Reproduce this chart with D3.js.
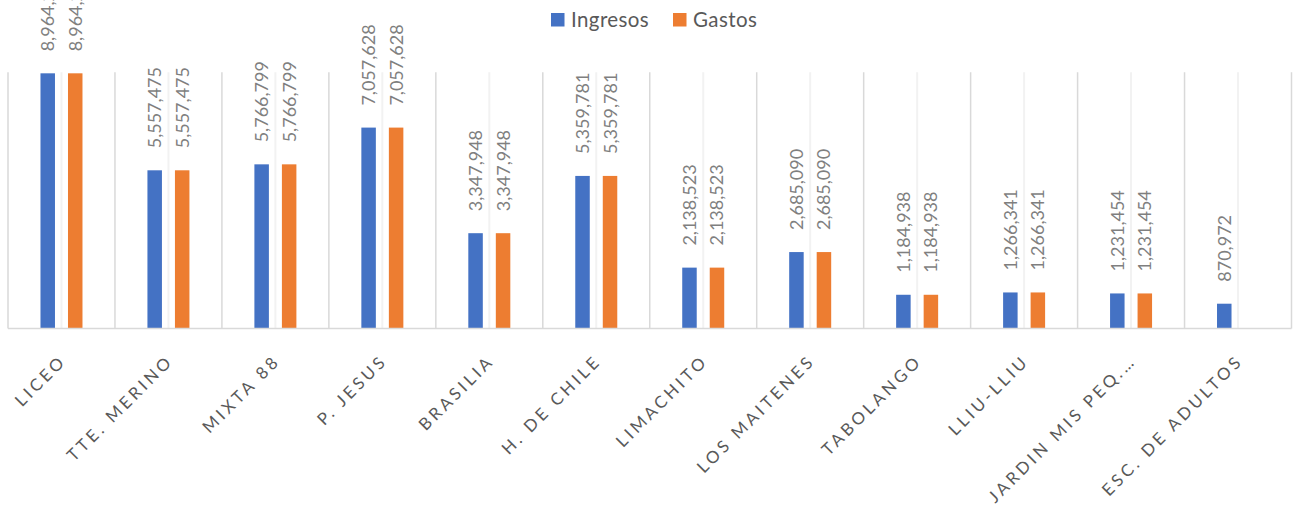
<!DOCTYPE html>
<html><head><meta charset="utf-8">
<script src="https://cdn.jsdelivr.net/npm/d3@7"></script>
<style>body{margin:0;background:#fff;}svg{display:block;}</style>
</head><body>
<svg id="c" width="1296" height="508"></svg>
<script>
const categories = ["LICEO","TTE. MERINO","MIXTA 88","P. JESUS","BRASILIA","H. DE CHILE","LIMACHITO","LOS MAITENES","TABOLANGO","LLIU-LLIU","JARDIN MIS PEQ.…","ESC. DE ADULTOS"];
const ingresos = [8964254,5557475,5766799,7057628,3347948,5359781,2138523,2685090,1184938,1266341,1231454,870972];
const gastos   = [8964254,5557475,5766799,7057628,3347948,5359781,2138523,2685090,1184938,1266341,1231454,null];
const seriesNames = ["Ingresos","Gastos"];
const colors = ["#4472C4","#ED7D31"];
const yMax = 9000000;

(function(){
const svg = d3.select("#c");
const pLeft = 8, pRight = 1291.5, pTop = 72.3, pBottom = 328.5;
const x = d3.scaleBand().domain(categories).range([pLeft, pRight]).padding(0);
const x1 = d3.scaleBand().domain(seriesNames).range([-21, 21]).paddingInner(0.473).paddingOuter(0);
const y = d3.scaleLinear().domain([0, yMax]).range([pBottom, pTop]);

svg.append("g").selectAll("line").data(categories).join("line")
  .attr("x1", d => x(d) + x.bandwidth()/2).attr("x2", d => x(d) + x.bandwidth()/2)
  .attr("y1", pTop).attr("y2", pBottom)
  .attr("stroke", "#f2f2f2").attr("stroke-width", 2);
const bounds = categories.map(d => x(d)).concat([pRight]);
svg.append("g").selectAll("line").data(bounds).join("line")
  .attr("x1", d => d).attr("x2", d => d)
  .attr("y1", pTop).attr("y2", pBottom)
  .attr("stroke", "#d9d9d9").attr("stroke-width", 1.5);

const data = [ingresos, gastos];
data.forEach((vals, si) => {
  const g = svg.append("g");
  const pts = categories.map((c, i) => ({c, v: vals[i]})).filter(d => d.v != null);
  g.selectAll("rect").data(pts).join("rect")
    .attr("x", d => x(d.c) + x.bandwidth()/2 + x1(seriesNames[si]))
    .attr("width", x1.bandwidth())
    .attr("y", d => y(d.v))
    .attr("height", d => y(0) - y(d.v))
    .attr("fill", colors[si]);
  g.selectAll("text").data(pts).join("text")
    .attr("transform", d => `translate(${x(d.c) + x.bandwidth()/2 + x1(seriesNames[si]) + x1.bandwidth()/2 + 6.5},${y(d.v) - 22}) rotate(-90)`)
    .attr("font-family", "Lato, 'Open Sans', sans-serif")
    .attr("font-size", 18).attr("fill", "#7f7f7f")
    .text(d => d3.format(",")(d.v));
});

svg.append("line").attr("x1", pLeft).attr("x2", pRight).attr("y1", pBottom).attr("y2", pBottom)
  .attr("stroke", "#d9d9d9").attr("stroke-width", 1.5);

svg.append("g").selectAll("text").data(categories).join("text")
  .attr("transform", d => `translate(${x(d) + x.bandwidth()/2 + 6},${362}) rotate(-45)`)
  .attr("text-anchor", "end")
  .attr("font-family", "Lato, 'Open Sans', sans-serif")
  .attr("font-size", 16.8).attr("letter-spacing", "3.4px").attr("fill", "#595959")
  .text(d => d);

const legX = [551, 673];
seriesNames.forEach((s, i) => {
  svg.append("rect").attr("x", legX[i]).attr("y", 13).attr("width", 13.5).attr("height", 13.5).attr("fill", colors[i]);
  svg.append("text").attr("x", legX[i] + 20).attr("y", 26.7)
    .attr("font-family", "Lato, 'Open Sans', sans-serif").attr("font-size", 20.5).attr("letter-spacing", "0.4px").attr("fill", "#595959")
    .text(s);
});
})();
</script>
</body></html>
